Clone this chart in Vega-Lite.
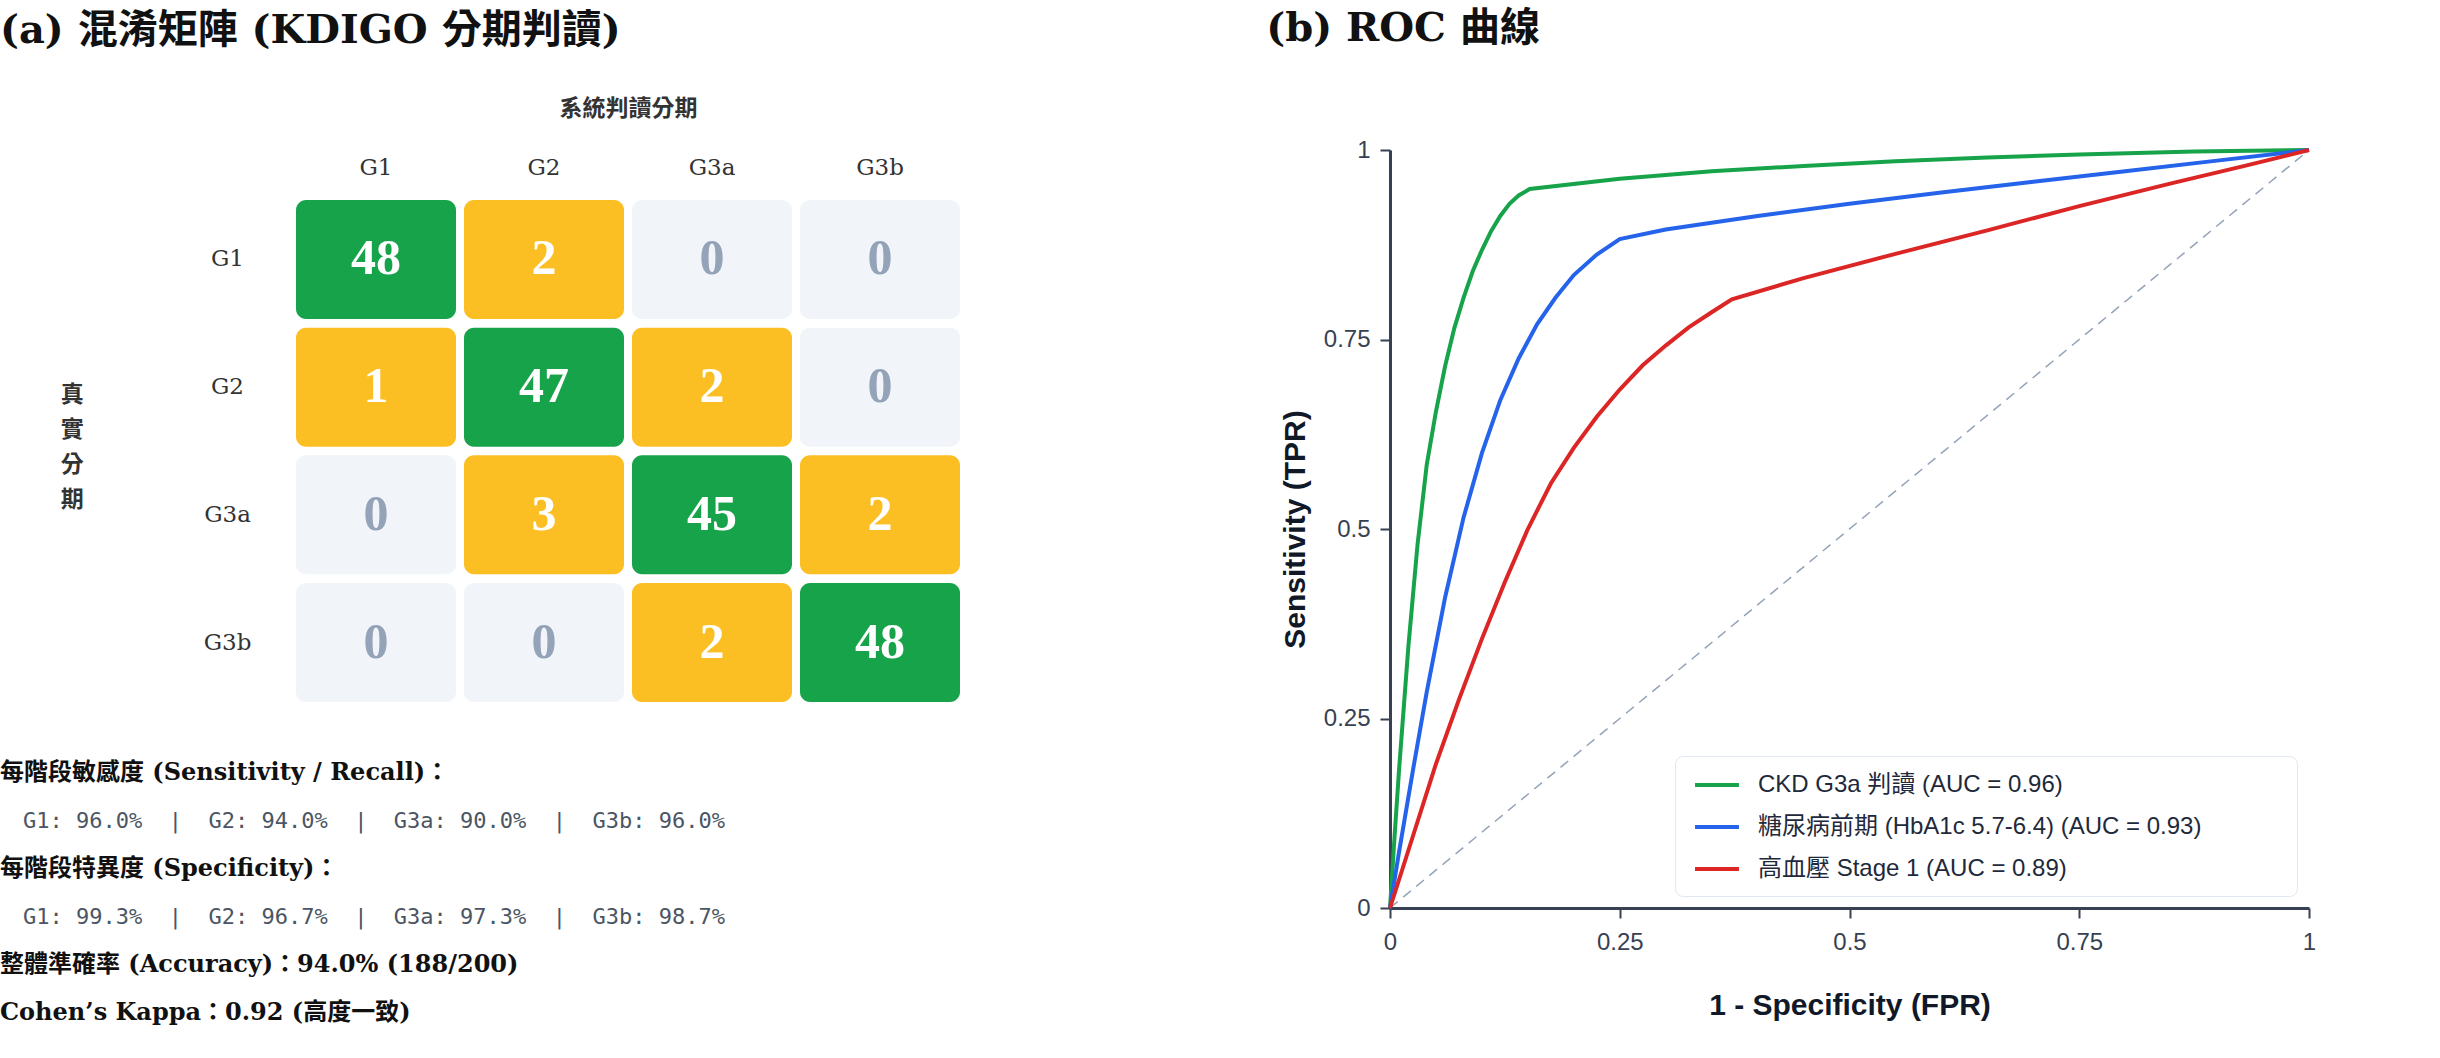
{
  "$schema": "https://vega.github.io/schema/vega-lite/v6.json",
  "padding": {"left": 0, "top": 9, "right": 0, "bottom": 0},
  "background": "white",
  "spacing": 306,
  "resolve": {"scale": {"color": "independent"}, "legend": {"color": "independent"}},
  "config": {"view": {"stroke": null}, "font": "Liberation Sans, Noto Sans CJK TC"},
  "hconcat": [
    {
      "title": {"text": "(a) 混淆矩陣 (KDIGO 分期判讀)", "anchor": "start", "frame": "bounds", "offset": 46, "font": "DejaVu Serif, Noto Sans CJK TC", "fontSize": 40, "fontWeight": "bold", "color": "#111111"},
      "bounds": "flush",
      "spacing": 40,
      "vconcat": [
        {"width": 664, "height": 10, "data": {"values": []}, "mark": "text", "encoding": {}},
        {
          "width": 664,
          "height": 502,
          "data": {"values": [
            {"actual": "G1", "pred": "G1", "n": 48}, {"actual": "G1", "pred": "G2", "n": 2}, {"actual": "G1", "pred": "G3a", "n": 0}, {"actual": "G1", "pred": "G3b", "n": 0},
            {"actual": "G2", "pred": "G1", "n": 1}, {"actual": "G2", "pred": "G2", "n": 47}, {"actual": "G2", "pred": "G3a", "n": 2}, {"actual": "G2", "pred": "G3b", "n": 0},
            {"actual": "G3a", "pred": "G1", "n": 0}, {"actual": "G3a", "pred": "G2", "n": 3}, {"actual": "G3a", "pred": "G3a", "n": 45}, {"actual": "G3a", "pred": "G3b", "n": 2},
            {"actual": "G3b", "pred": "G1", "n": 0}, {"actual": "G3b", "pred": "G2", "n": 0}, {"actual": "G3b", "pred": "G3a", "n": 2}, {"actual": "G3b", "pred": "G3b", "n": 48}
          ]},
          "encoding": {
            "x": {"field": "pred", "type": "nominal", "sort": ["G1", "G2", "G3a", "G3b"], "scale": {"paddingInner": 0.0476, "paddingOuter": 0},
              "axis": {"orient": "top", "title": "系統判讀分期", "domain": false, "ticks": false, "tickSize": 0, "labelAngle": 0, "labelFont": "DejaVu Serif", "labelFontSize": 23, "labelColor": "#333333", "labelPadding": 33, "labelBaseline": "middle", "titleFont": "DejaVu Serif, Noto Sans CJK TC", "titleFontSize": 23, "titleFontWeight": "bold", "titleColor": "#333333", "titlePadding": 36}},
            "y": {"field": "actual", "type": "nominal", "sort": ["G1", "G2", "G3a", "G3b"], "scale": {"paddingInner": 0.068, "paddingOuter": 0},
              "axis": {"title": ["真", "實", "分", "期"], "domain": false, "ticks": false, "tickSize": 0, "labelFont": "DejaVu Serif", "labelFontSize": 23, "labelColor": "#333333", "labelAlign": "center", "labelBaseline": "middle", "labelPadding": 69, "titleAngle": 0, "titleAlign": "right", "titleBaseline": "middle", "titleLineHeight": 35, "titlePadding": 15, "titleY": 194, "titleFont": "DejaVu Serif, Noto Sans CJK TC", "titleFontSize": 23, "titleFontWeight": "bold", "titleColor": "#333333"}}
          },
          "layer": [
            {"mark": {"type": "rect", "cornerRadius": 10},
             "encoding": {"color": {"condition": [{"test": "datum.actual === datum.pred", "value": "#16a34a"}, {"test": "datum.n === 0", "value": "#f1f5f9"}], "value": "#fbbf24"}}},
            {"mark": {"type": "text", "font": "Liberation Serif", "fontSize": 50, "fontWeight": "bold", "baseline": "middle", "align": "center"},
             "encoding": {"text": {"field": "n", "type": "quantitative"}, "color": {"condition": {"test": "datum.n === 0", "value": "#94a3b8"}, "value": "#ffffff"}}}
          ]
        },
        {
          "width": 664,
          "height": 302,
          "data": {"values": [
            {"line": 1, "kind": "heading", "text": "每階段敏感度 (Sensitivity / Recall)："},
            {"line": 2, "kind": "detail", "text": "G1: 96.0%\u00a0\u00a0|\u00a0\u00a0G2: 94.0%\u00a0\u00a0|\u00a0\u00a0G3a: 90.0%\u00a0\u00a0|\u00a0\u00a0G3b: 96.0%"},
            {"line": 3, "kind": "heading", "text": "每階段特異度 (Specificity)："},
            {"line": 4, "kind": "detail", "text": "G1: 99.3%\u00a0\u00a0|\u00a0\u00a0G2: 96.7%\u00a0\u00a0|\u00a0\u00a0G3a: 97.3%\u00a0\u00a0|\u00a0\u00a0G3b: 98.7%"},
            {"line": 5, "kind": "heading", "text": "整體準確率 (Accuracy)：94.0% (188/200)"},
            {"line": 6, "kind": "heading", "text": "Cohen’s Kappa：0.92 (高度一致)"}
          ]},
          "encoding": {
            "y": {"field": "line", "type": "ordinal", "scale": {"type": "point", "padding": 0.647}, "axis": null},
            "x": {"datum": 0, "type": "quantitative", "scale": {"domain": [0, 1]}, "axis": null},
            "text": {"field": "text", "type": "nominal"}
          },
          "layer": [
            {"transform": [{"filter": "datum.kind === 'heading'"}],
             "mark": {"type": "text", "align": "left", "baseline": "middle", "dx": -296, "font": "DejaVu Serif, Noto Sans CJK TC", "fontSize": 24, "fontWeight": "bold", "color": "#111111"}},
            {"transform": [{"filter": "datum.kind === 'detail'"}],
             "mark": {"type": "text", "align": "left", "baseline": "middle", "dx": -273, "font": "DejaVu Sans Mono", "fontSize": 22, "color": "#4b5563"}}
          ]
        }
      ]
    },
    {
      "width": 919,
      "height": 758,
      "title": {"text": "(b) ROC 曲線", "anchor": "start", "frame": "bounds", "offset": 89, "dx": -14, "font": "DejaVu Serif, Noto Sans CJK TC", "fontSize": 40, "fontWeight": "bold", "color": "#111111"},
      "encoding": {
        "x": {"field": "fpr", "type": "quantitative", "scale": {"domain": [0, 1], "nice": false, "zero": false},
          "axis": {"values": [0, 0.25, 0.5, 0.75, 1], "labelExpr": "'' + datum.value", "title": "1 - Specificity (FPR)", "grid": false, "labelFlush": false, "labelFont": "Liberation Sans", "labelFontSize": 24, "labelColor": "#374151", "labelPadding": 12, "tickSize": 10, "tickWidth": 2, "tickColor": "#374151", "domainColor": "#374151", "domainWidth": 3, "titleFont": "Liberation Sans", "titleFontSize": 30, "titleFontWeight": "bold", "titleColor": "#111827", "titlePadding": 36}},
        "y": {"field": "tpr", "type": "quantitative", "scale": {"domain": [0, 1], "nice": false, "zero": false},
          "axis": {"values": [0, 0.25, 0.5, 0.75, 1], "labelExpr": "'' + datum.value", "title": "Sensitivity (TPR)", "grid": false, "labelFlush": false, "labelFont": "Liberation Sans", "labelFontSize": 24, "labelColor": "#374151", "labelPadding": 10, "tickSize": 10, "tickWidth": 2, "tickColor": "#374151", "domainColor": "#374151", "domainWidth": 3, "titleFont": "Liberation Sans", "titleFontSize": 30, "titleFontWeight": "bold", "titleColor": "#111827", "titlePadding": 13}}
      },
      "layer": [
        {"data": {"values": [{"fpr": 0, "tpr": 0}, {"fpr": 1, "tpr": 1}]},
         "mark": {"type": "line", "color": "#94a3b8", "strokeDash": [10, 7], "strokeWidth": 1.5}},
        {"data": {"values": [
          {"series": "CKD G3a 判讀 (AUC = 0.96)", "fpr": 0, "tpr": 0},
          {"series": "CKD G3a 判讀 (AUC = 0.96)", "fpr": 0.005, "tpr": 0.095},
          {"series": "CKD G3a 判讀 (AUC = 0.96)", "fpr": 0.01, "tpr": 0.185},
          {"series": "CKD G3a 判讀 (AUC = 0.96)", "fpr": 0.02, "tpr": 0.345},
          {"series": "CKD G3a 判讀 (AUC = 0.96)", "fpr": 0.03, "tpr": 0.48},
          {"series": "CKD G3a 判讀 (AUC = 0.96)", "fpr": 0.04, "tpr": 0.585},
          {"series": "CKD G3a 判讀 (AUC = 0.96)", "fpr": 0.05, "tpr": 0.655},
          {"series": "CKD G3a 判讀 (AUC = 0.96)", "fpr": 0.06, "tpr": 0.715},
          {"series": "CKD G3a 判讀 (AUC = 0.96)", "fpr": 0.07, "tpr": 0.765},
          {"series": "CKD G3a 判讀 (AUC = 0.96)", "fpr": 0.08, "tpr": 0.805},
          {"series": "CKD G3a 判讀 (AUC = 0.96)", "fpr": 0.09, "tpr": 0.84},
          {"series": "CKD G3a 判讀 (AUC = 0.96)", "fpr": 0.1, "tpr": 0.868},
          {"series": "CKD G3a 判讀 (AUC = 0.96)", "fpr": 0.11, "tpr": 0.893},
          {"series": "CKD G3a 判讀 (AUC = 0.96)", "fpr": 0.12, "tpr": 0.913},
          {"series": "CKD G3a 判讀 (AUC = 0.96)", "fpr": 0.13, "tpr": 0.929},
          {"series": "CKD G3a 判讀 (AUC = 0.96)", "fpr": 0.14, "tpr": 0.94},
          {"series": "CKD G3a 判讀 (AUC = 0.96)", "fpr": 0.152, "tpr": 0.9485},
          {"series": "CKD G3a 判讀 (AUC = 0.96)", "fpr": 0.25, "tpr": 0.962},
          {"series": "CKD G3a 判讀 (AUC = 0.96)", "fpr": 0.35, "tpr": 0.972},
          {"series": "CKD G3a 判讀 (AUC = 0.96)", "fpr": 0.45, "tpr": 0.979},
          {"series": "CKD G3a 判讀 (AUC = 0.96)", "fpr": 0.55, "tpr": 0.985},
          {"series": "CKD G3a 判讀 (AUC = 0.96)", "fpr": 0.65, "tpr": 0.99},
          {"series": "CKD G3a 判讀 (AUC = 0.96)", "fpr": 0.75, "tpr": 0.994},
          {"series": "CKD G3a 判讀 (AUC = 0.96)", "fpr": 0.875, "tpr": 0.998},
          {"series": "CKD G3a 判讀 (AUC = 0.96)", "fpr": 1, "tpr": 1},
          {"series": "糖尿病前期 (HbA1c 5.7-6.4) (AUC = 0.93)", "fpr": 0, "tpr": 0},
          {"series": "糖尿病前期 (HbA1c 5.7-6.4) (AUC = 0.93)", "fpr": 0.01, "tpr": 0.075},
          {"series": "糖尿病前期 (HbA1c 5.7-6.4) (AUC = 0.93)", "fpr": 0.025, "tpr": 0.182},
          {"series": "糖尿病前期 (HbA1c 5.7-6.4) (AUC = 0.93)", "fpr": 0.04, "tpr": 0.285},
          {"series": "糖尿病前期 (HbA1c 5.7-6.4) (AUC = 0.93)", "fpr": 0.06, "tpr": 0.41},
          {"series": "糖尿病前期 (HbA1c 5.7-6.4) (AUC = 0.93)", "fpr": 0.08, "tpr": 0.515},
          {"series": "糖尿病前期 (HbA1c 5.7-6.4) (AUC = 0.93)", "fpr": 0.1, "tpr": 0.6},
          {"series": "糖尿病前期 (HbA1c 5.7-6.4) (AUC = 0.93)", "fpr": 0.12, "tpr": 0.67},
          {"series": "糖尿病前期 (HbA1c 5.7-6.4) (AUC = 0.93)", "fpr": 0.14, "tpr": 0.725},
          {"series": "糖尿病前期 (HbA1c 5.7-6.4) (AUC = 0.93)", "fpr": 0.16, "tpr": 0.77},
          {"series": "糖尿病前期 (HbA1c 5.7-6.4) (AUC = 0.93)", "fpr": 0.18, "tpr": 0.805},
          {"series": "糖尿病前期 (HbA1c 5.7-6.4) (AUC = 0.93)", "fpr": 0.2, "tpr": 0.835},
          {"series": "糖尿病前期 (HbA1c 5.7-6.4) (AUC = 0.93)", "fpr": 0.225, "tpr": 0.862},
          {"series": "糖尿病前期 (HbA1c 5.7-6.4) (AUC = 0.93)", "fpr": 0.25, "tpr": 0.8825},
          {"series": "糖尿病前期 (HbA1c 5.7-6.4) (AUC = 0.93)", "fpr": 0.3, "tpr": 0.895},
          {"series": "糖尿病前期 (HbA1c 5.7-6.4) (AUC = 0.93)", "fpr": 0.4, "tpr": 0.913},
          {"series": "糖尿病前期 (HbA1c 5.7-6.4) (AUC = 0.93)", "fpr": 0.5, "tpr": 0.929},
          {"series": "糖尿病前期 (HbA1c 5.7-6.4) (AUC = 0.93)", "fpr": 0.6, "tpr": 0.944},
          {"series": "糖尿病前期 (HbA1c 5.7-6.4) (AUC = 0.93)", "fpr": 0.7, "tpr": 0.958},
          {"series": "糖尿病前期 (HbA1c 5.7-6.4) (AUC = 0.93)", "fpr": 0.8, "tpr": 0.972},
          {"series": "糖尿病前期 (HbA1c 5.7-6.4) (AUC = 0.93)", "fpr": 0.9, "tpr": 0.986},
          {"series": "糖尿病前期 (HbA1c 5.7-6.4) (AUC = 0.93)", "fpr": 1, "tpr": 1},
          {"series": "高血壓 Stage 1 (AUC = 0.89)", "fpr": 0, "tpr": 0},
          {"series": "高血壓 Stage 1 (AUC = 0.89)", "fpr": 0.025, "tpr": 0.095},
          {"series": "高血壓 Stage 1 (AUC = 0.89)", "fpr": 0.05, "tpr": 0.19},
          {"series": "高血壓 Stage 1 (AUC = 0.89)", "fpr": 0.075, "tpr": 0.275},
          {"series": "高血壓 Stage 1 (AUC = 0.89)", "fpr": 0.1, "tpr": 0.355},
          {"series": "高血壓 Stage 1 (AUC = 0.89)", "fpr": 0.125, "tpr": 0.43},
          {"series": "高血壓 Stage 1 (AUC = 0.89)", "fpr": 0.15, "tpr": 0.5},
          {"series": "高血壓 Stage 1 (AUC = 0.89)", "fpr": 0.175, "tpr": 0.56},
          {"series": "高血壓 Stage 1 (AUC = 0.89)", "fpr": 0.2, "tpr": 0.607},
          {"series": "高血壓 Stage 1 (AUC = 0.89)", "fpr": 0.225, "tpr": 0.648},
          {"series": "高血壓 Stage 1 (AUC = 0.89)", "fpr": 0.25, "tpr": 0.684},
          {"series": "高血壓 Stage 1 (AUC = 0.89)", "fpr": 0.275, "tpr": 0.716},
          {"series": "高血壓 Stage 1 (AUC = 0.89)", "fpr": 0.3, "tpr": 0.742},
          {"series": "高血壓 Stage 1 (AUC = 0.89)", "fpr": 0.325, "tpr": 0.766},
          {"series": "高血壓 Stage 1 (AUC = 0.89)", "fpr": 0.35, "tpr": 0.786},
          {"series": "高血壓 Stage 1 (AUC = 0.89)", "fpr": 0.372, "tpr": 0.803},
          {"series": "高血壓 Stage 1 (AUC = 0.89)", "fpr": 0.45, "tpr": 0.831},
          {"series": "高血壓 Stage 1 (AUC = 0.89)", "fpr": 0.55, "tpr": 0.863},
          {"series": "高血壓 Stage 1 (AUC = 0.89)", "fpr": 0.65, "tpr": 0.894},
          {"series": "高血壓 Stage 1 (AUC = 0.89)", "fpr": 0.75, "tpr": 0.926},
          {"series": "高血壓 Stage 1 (AUC = 0.89)", "fpr": 0.85, "tpr": 0.956},
          {"series": "高血壓 Stage 1 (AUC = 0.89)", "fpr": 0.93, "tpr": 0.979},
          {"series": "高血壓 Stage 1 (AUC = 0.89)", "fpr": 1, "tpr": 1}
        ]},
         "mark": {"type": "line", "strokeWidth": 4},
         "encoding": {
           "color": {"field": "series", "type": "nominal",
             "scale": {"domain": ["CKD G3a 判讀 (AUC = 0.96)", "糖尿病前期 (HbA1c 5.7-6.4) (AUC = 0.93)", "高血壓 Stage 1 (AUC = 0.89)"], "range": ["#16a34a", "#2563eb", "#dc2626"]},
             "legend": {"orient": "bottom-right", "offset": 12, "title": null, "fillColor": "#ffffff", "strokeColor": "#e2e8f0", "cornerRadius": 8, "padding": 15, "symbolType": "M-1.83,0H1.83", "symbolSize": 576, "symbolStrokeWidth": 4, "symbolOffset": 13, "labelOffset": 27, "labelFont": "Liberation Sans, Noto Sans CJK TC", "labelFontSize": 24, "labelColor": "#1e293b", "labelLimit": 1200, "rowPadding": 16, "labelExpr": "datum.label + '\u00a0\u00a0\u00a0\u00a0\u00a0\u00a0\u00a0\u00a0\u00a0\u00a0\u00a0\u00a0\u200b'"}}
         }}
      ]
    }
  ]
}
